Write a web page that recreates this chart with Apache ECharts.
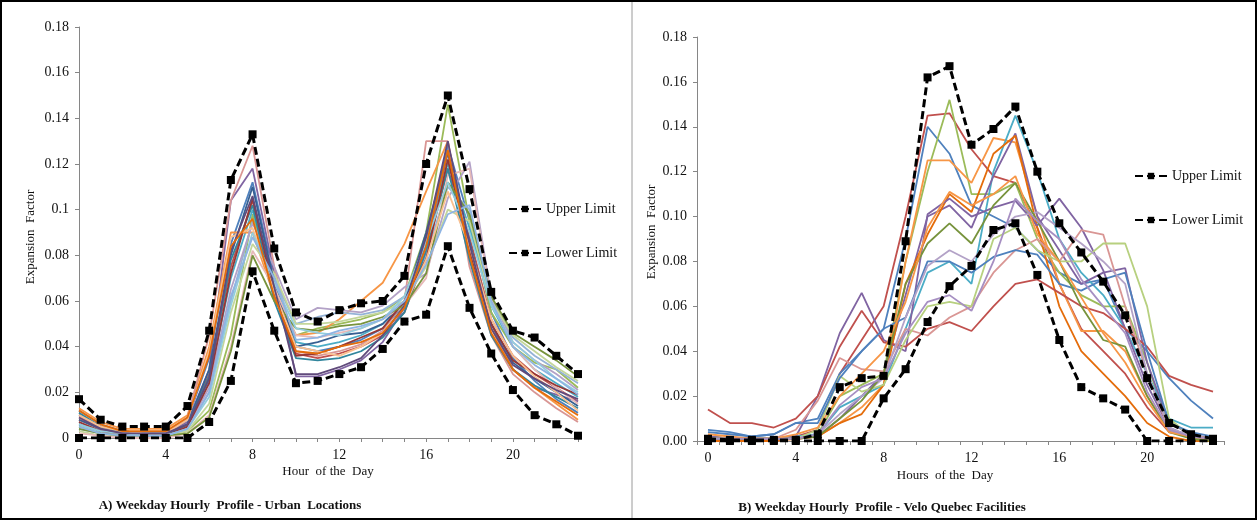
<!DOCTYPE html>
<html><head><meta charset="utf-8">
<script src="https://cdn.jsdelivr.net/npm/echarts@6/dist/echarts.min.js"></script>
<style>html,body{margin:0;padding:0;background:#fff}#c{width:1257px;height:520px}</style>
</head><body><div id="c"></div>
<script>
// ---------- DATA ----------
const hours = ['0','1','2','3','4','5','6','7','8','9','10','11','12','13','14','15','16','17','18','19','20','21','22','23'];
const hourValues = [0,1,2,3,4,5,6,7,8,9,10,11,12,13,14,15,16,17,18,19,20,21,22,23];

// Panel A limits
const upperA = [0.017,0.008,0.005,0.005,0.005,0.014,0.047,0.113,0.133,0.083,0.055,0.051,0.056,0.059,0.060,0.071,0.120,0.150,0.109,0.064,0.047,0.044,0.036,0.028];
const lowerA = [0.000,0.000,0.000,0.000,0.000,0.000,0.007,0.025,0.073,0.047,0.024,0.025,0.028,0.031,0.039,0.051,0.054,0.084,0.057,0.037,0.021,0.010,0.006,0.001];
// Panel A site profiles
const siteA01 = [0.012,0.006,0.003,0.002,0.002,0.008,0.035,0.085,0.112,0.070,0.040,0.038,0.040,0.043,0.048,0.058,0.085,0.128,0.095,0.055,0.035,0.025,0.017,0.011];
const siteA02 = [0.008,0.004,0.002,0.001,0.002,0.006,0.028,0.075,0.104,0.066,0.037,0.035,0.037,0.040,0.045,0.055,0.080,0.118,0.088,0.052,0.036,0.028,0.022,0.016];
const siteA03 = [0.005,0.002,0.001,0.001,0.001,0.003,0.012,0.045,0.098,0.065,0.045,0.048,0.050,0.052,0.055,0.062,0.090,0.146,0.095,0.055,0.040,0.033,0.030,0.022];
const siteA04 = [0.010,0.005,0.003,0.002,0.002,0.007,0.030,0.104,0.118,0.072,0.027,0.027,0.030,0.034,0.042,0.057,0.082,0.125,0.085,0.050,0.030,0.022,0.019,0.016];
const siteA05 = [0.006,0.003,0.002,0.001,0.001,0.005,0.025,0.070,0.100,0.068,0.042,0.040,0.042,0.045,0.050,0.060,0.088,0.120,0.092,0.058,0.040,0.030,0.024,0.018];
const siteA06 = [0.013,0.007,0.004,0.004,0.004,0.010,0.040,0.090,0.090,0.062,0.045,0.046,0.052,0.060,0.068,0.085,0.108,0.130,0.080,0.048,0.030,0.022,0.015,0.008];
const siteA07 = [0.009,0.005,0.002,0.002,0.002,0.009,0.045,0.104,0.128,0.075,0.038,0.036,0.038,0.041,0.047,0.060,0.130,0.130,0.075,0.045,0.028,0.020,0.013,0.007];
const siteA08 = [0.004,0.002,0.001,0.001,0.001,0.004,0.020,0.060,0.095,0.070,0.050,0.053,0.055,0.054,0.056,0.062,0.080,0.110,0.100,0.060,0.044,0.036,0.030,0.024];
const siteA09 = [0.007,0.003,0.002,0.001,0.001,0.005,0.022,0.065,0.094,0.075,0.052,0.057,0.056,0.055,0.058,0.066,0.072,0.105,0.121,0.062,0.042,0.034,0.028,0.021];
const siteA10 = [0.003,0.001,0.001,0.000,0.001,0.003,0.015,0.055,0.085,0.072,0.050,0.050,0.051,0.053,0.055,0.060,0.075,0.100,0.095,0.060,0.045,0.038,0.031,0.025];
const siteA11 = [0.008,0.004,0.002,0.001,0.001,0.006,0.030,0.080,0.110,0.068,0.040,0.042,0.045,0.046,0.050,0.059,0.090,0.125,0.086,0.050,0.033,0.026,0.020,0.014];
const siteA12 = [0.002,0.001,0.000,0.000,0.000,0.002,0.010,0.040,0.082,0.066,0.045,0.044,0.046,0.048,0.052,0.058,0.070,0.115,0.118,0.060,0.040,0.030,0.022,0.015];
const siteA13 = [0.011,0.005,0.003,0.002,0.002,0.006,0.027,0.078,0.102,0.060,0.035,0.034,0.035,0.038,0.044,0.055,0.082,0.118,0.078,0.045,0.030,0.023,0.018,0.013];
const siteA14 = [0.007,0.003,0.002,0.001,0.001,0.005,0.024,0.072,0.105,0.063,0.036,0.037,0.040,0.044,0.048,0.060,0.078,0.122,0.082,0.050,0.034,0.028,0.023,0.019];
const siteA15 = [0.004,0.002,0.001,0.001,0.001,0.002,0.009,0.038,0.080,0.060,0.048,0.047,0.049,0.050,0.053,0.058,0.072,0.112,0.098,0.062,0.046,0.040,0.034,0.027];
const siteA16 = [0.010,0.005,0.003,0.002,0.002,0.008,0.038,0.088,0.092,0.064,0.040,0.038,0.036,0.040,0.046,0.058,0.078,0.108,0.084,0.052,0.036,0.027,0.020,0.012];
const siteA17 = [0.006,0.003,0.002,0.001,0.001,0.004,0.018,0.058,0.090,0.068,0.048,0.046,0.045,0.048,0.052,0.062,0.086,0.112,0.090,0.058,0.042,0.034,0.026,0.020];
const siteA18 = [0.009,0.004,0.002,0.002,0.002,0.006,0.026,0.082,0.106,0.066,0.028,0.028,0.031,0.035,0.045,0.058,0.088,0.130,0.085,0.048,0.032,0.026,0.021,0.017];
const siteA19 = [0.005,0.002,0.001,0.001,0.001,0.004,0.020,0.062,0.088,0.070,0.043,0.044,0.047,0.049,0.052,0.060,0.076,0.098,0.102,0.060,0.040,0.032,0.026,0.019];
const siteA20 = [0.012,0.006,0.003,0.003,0.003,0.009,0.036,0.084,0.096,0.062,0.038,0.037,0.040,0.042,0.046,0.057,0.084,0.126,0.080,0.046,0.030,0.022,0.016,0.010];

// Panel B limits
const upperB = [0.001,0.0005,0.0005,0.0005,0.0005,0.003,0.024,0.028,0.029,0.089,0.162,0.167,0.132,0.139,0.149,0.120,0.097,0.084,0.071,0.056,0.028,0.008,0.003,0.001];
const lowerB = [0.000,0.000,0.000,0.000,0.000,0.000,0.000,0.000,0.019,0.032,0.053,0.069,0.078,0.094,0.097,0.074,0.045,0.024,0.019,0.014,0.000,0.000,0.000,0.000];
// Panel B facility profiles
const siteB01 = [0.002,0.001,0.001,0.001,0.002,0.005,0.030,0.045,0.060,0.100,0.145,0.146,0.130,0.118,0.115,0.095,0.070,0.050,0.040,0.030,0.015,0.004,0.002,0.001];
const siteB02 = [0.005,0.004,0.002,0.003,0.008,0.010,0.030,0.040,0.050,0.090,0.140,0.128,0.105,0.100,0.095,0.085,0.075,0.070,0.072,0.050,0.040,0.028,0.018,0.010];
const siteB03 = [0.001,0.001,0.001,0.001,0.001,0.003,0.020,0.025,0.030,0.080,0.120,0.152,0.110,0.110,0.115,0.090,0.075,0.065,0.060,0.060,0.035,0.005,0.002,0.001];
const siteB04 = [0.001,0.001,0.001,0.001,0.001,0.002,0.008,0.015,0.025,0.080,0.125,0.125,0.115,0.135,0.133,0.100,0.070,0.049,0.049,0.040,0.020,0.005,0.001,0.000];
const siteB05 = [0.002,0.001,0.001,0.001,0.002,0.003,0.015,0.020,0.025,0.050,0.075,0.080,0.070,0.120,0.145,0.120,0.090,0.075,0.065,0.050,0.030,0.010,0.006,0.006];
const siteB06 = [0.001,0.001,0.001,0.001,0.001,0.002,0.010,0.020,0.030,0.065,0.100,0.105,0.095,0.118,0.137,0.100,0.085,0.070,0.075,0.077,0.035,0.008,0.003,0.001];
const siteB07 = [0.000,0.000,0.000,0.000,0.001,0.002,0.008,0.012,0.025,0.070,0.092,0.110,0.102,0.128,0.136,0.095,0.060,0.040,0.030,0.020,0.008,0.002,0.000,0.000];
const siteB08 = [0.002,0.001,0.001,0.001,0.002,0.020,0.048,0.066,0.045,0.040,0.101,0.108,0.100,0.104,0.107,0.096,0.108,0.095,0.076,0.050,0.025,0.006,0.002,0.001];
const siteB09 = [0.014,0.008,0.008,0.006,0.010,0.020,0.042,0.058,0.044,0.042,0.050,0.053,0.049,0.060,0.070,0.072,0.066,0.060,0.057,0.050,0.042,0.029,0.025,0.022];
const siteB10 = [0.001,0.001,0.001,0.001,0.005,0.018,0.037,0.032,0.031,0.050,0.047,0.055,0.060,0.075,0.085,0.090,0.080,0.094,0.092,0.060,0.030,0.005,0.002,0.001];
const siteB11 = [0.001,0.001,0.001,0.001,0.001,0.005,0.029,0.022,0.025,0.045,0.060,0.062,0.060,0.090,0.095,0.085,0.080,0.080,0.088,0.088,0.060,0.010,0.002,0.001];
const siteB12 = [0.004,0.003,0.002,0.003,0.008,0.008,0.028,0.040,0.050,0.055,0.080,0.080,0.075,0.082,0.085,0.083,0.070,0.067,0.072,0.075,0.040,0.008,0.004,0.002];
const siteB13 = [0.001,0.001,0.001,0.001,0.001,0.003,0.012,0.020,0.028,0.055,0.078,0.085,0.080,0.092,0.100,0.102,0.095,0.088,0.080,0.070,0.030,0.006,0.002,0.001];
const siteB14 = [0.001,0.001,0.001,0.001,0.001,0.002,0.010,0.018,0.030,0.070,0.088,0.097,0.088,0.105,0.115,0.098,0.080,0.060,0.045,0.042,0.020,0.004,0.001,0.000];
const siteB15 = [0.003,0.002,0.001,0.001,0.003,0.006,0.020,0.030,0.040,0.062,0.095,0.111,0.105,0.110,0.118,0.092,0.080,0.064,0.048,0.035,0.018,0.004,0.002,0.001];
const siteB16 = [0.001,0.001,0.001,0.001,0.001,0.003,0.016,0.024,0.028,0.048,0.062,0.065,0.058,0.080,0.108,0.098,0.090,0.072,0.060,0.048,0.022,0.005,0.002,0.001];

const seriesA = [siteA01,siteA02,siteA03,siteA04,siteA05,siteA06,siteA07,siteA08,siteA09,siteA10,siteA11,siteA12,siteA13,siteA14,siteA15,siteA16,siteA17,siteA18,siteA19,siteA20];
const seriesB = [siteB01,siteB02,siteB03,siteB04,siteB05,siteB06,siteB07,siteB08,siteB09,siteB10,siteB11,siteB12,siteB13,siteB14,siteB15,siteB16];
const colorsA = ['#4F81BD','#C0504D','#9BBB59','#8064A2','#4BACC6','#F79646','#D99694','#95B3D7','#B3A2C7','#C3D69B','#376092','#E6B9B8','#31859C','#953735','#77933C','#FAC090','#93CDDD','#604A7B','#8EB4E3','#E46C0A'];
const colorsB = ['#C0504D','#4F81BD','#9BBB59','#F79646','#4BACC6','#8064A2','#E46C0A','#8064A2','#C0504D','#D99694','#B7D07F','#4F81BD','#B3A2C7','#77933C','#F79646','#A68FC2'];

// ---------- CHART ----------
const FONT = '"Liberation Serif", "Times New Roman", serif';
const chart = echarts.init(document.getElementById('c'), null, {renderer:'canvas'});
const limitStyle = {color:'#000', width:3, type:[8,4]};
const series = [];
seriesA.forEach((d,i)=>series.push({type:'line', xAxisIndex:0, yAxisIndex:0, data:d.map((v,k)=>[hourValues[k],v]), symbol:'none', lineStyle:{width:1.8,color:colorsA[i]}, silent:true, z:2}));
seriesB.forEach((d,i)=>series.push({type:'line', xAxisIndex:1, yAxisIndex:1, data:d, symbol:'none', lineStyle:{width:1.8,color:colorsB[i]}, silent:true, z:2}));
series.push({name:'Upper Limit', type:'line', xAxisIndex:0, yAxisIndex:0, data:upperA.map((v,k)=>[hourValues[k],v]), symbol:'rect', symbolSize:8, itemStyle:{color:'#000'}, lineStyle:limitStyle, z:5});
series.push({name:'Lower Limit', type:'line', xAxisIndex:0, yAxisIndex:0, data:lowerA.map((v,k)=>[hourValues[k],v]), symbol:'rect', symbolSize:8, itemStyle:{color:'#000'}, lineStyle:limitStyle, z:5});
series.push({name:'Upper Limit', type:'line', xAxisIndex:1, yAxisIndex:1, data:upperB, symbol:'rect', symbolSize:8, itemStyle:{color:'#000'}, lineStyle:limitStyle, z:5});
series.push({name:'Lower Limit', type:'line', xAxisIndex:1, yAxisIndex:1, data:lowerB, symbol:'rect', symbolSize:8, itemStyle:{color:'#000'}, lineStyle:limitStyle, z:5});

const axisLineStyle = {lineStyle:{color:'#868686', width:1}};
const labelStyle = {color:'#111', fontSize:14, fontFamily:FONT};
const legendCommon = {orient:'vertical', itemWidth:32, itemHeight:8, itemGap:30, data:['Upper Limit','Lower Limit'],
  textStyle:{color:'#111', fontSize:14, fontFamily:FONT}, selectedMode:false};

chart.setOption({
  animation:false,
  backgroundColor:'#fff',
  textStyle:{fontFamily:FONT},
  grid:[
    {left:79, top:27, width:499, height:411},
    {left:697, top:37, width:527, height:404}
  ],
  xAxis:[
    {type:'value', gridIndex:0, min:0, max:23, interval:1, axisLine:axisLineStyle,
     axisTick:{show:true, length:4, lineStyle:{color:'#868686'}}, splitLine:{show:false},
     axisLabel:Object.assign({margin:10, formatter:v=> (v%4===0? String(v):'')}, labelStyle)},
    {type:'category', gridIndex:1, data:hours, boundaryGap:true, axisLine:axisLineStyle,
     axisTick:{show:true, interval:0, length:4, lineStyle:{color:'#868686'}}, splitLine:{show:false},
     axisLabel:Object.assign({interval:3, margin:10}, labelStyle)}
  ],
  yAxis:[
    {type:'value', gridIndex:0, min:0, max:0.18, interval:0.02, axisLine:Object.assign({show:true},axisLineStyle),
     axisTick:{show:true, length:4, lineStyle:{color:'#868686'}}, splitLine:{show:false},
     axisLabel:Object.assign({margin:10}, labelStyle)},
    {type:'value', gridIndex:1, min:0, max:0.18, interval:0.02, axisLine:Object.assign({show:true},axisLineStyle),
     axisTick:{show:true, length:4, lineStyle:{color:'#868686'}}, splitLine:{show:false},
     axisLabel:Object.assign({margin:10, formatter:v=>v.toFixed(2)}, labelStyle)}
  ],
  legend:[
    Object.assign({left:503, top:197}, legendCommon),
    Object.assign({left:1129, top:164, itemGap:32}, legendCommon)
  ],
  graphic:[
    {type:'rect', shape:{x:1, y:1, width:1255, height:518}, style:{fill:'none', stroke:'#000', lineWidth:2}, z:100},
    {type:'line', shape:{x1:632, y1:2, x2:632, y2:518}, style:{stroke:'#9a9a9a', lineWidth:1}, z:100},
    {type:'text', x:31, y:237, rotation:Math.PI/2, style:{text:'Expansion  Factor', font:'13px '+FONT, fill:'#111', textAlign:'center', textVerticalAlign:'middle'}},
    {type:'text', x:652, y:232, rotation:Math.PI/2, style:{text:'Expansion  Factor', font:'13px '+FONT, fill:'#111', textAlign:'center', textVerticalAlign:'middle'}},
    {type:'text', x:328, y:472, style:{text:'Hour  of the  Day', font:'13px '+FONT, fill:'#111', textAlign:'center', textVerticalAlign:'middle'}},
    {type:'text', x:945, y:476, style:{text:'Hours  of the  Day', font:'13px '+FONT, fill:'#111', textAlign:'center', textVerticalAlign:'middle'}},
    {type:'text', x:230, y:506, style:{text:'A) Weekday Hourly  Profile - Urban  Locations', font:'bold 13px '+FONT, fill:'#111', textAlign:'center', textVerticalAlign:'middle'}},
    {type:'text', x:882, y:508, style:{text:'B) Weekday Hourly  Profile - Velo Quebec Facilities', font:'bold 13px '+FONT, fill:'#111', textAlign:'center', textVerticalAlign:'middle'}}
  ],
  series:series
});
</script></body></html>
